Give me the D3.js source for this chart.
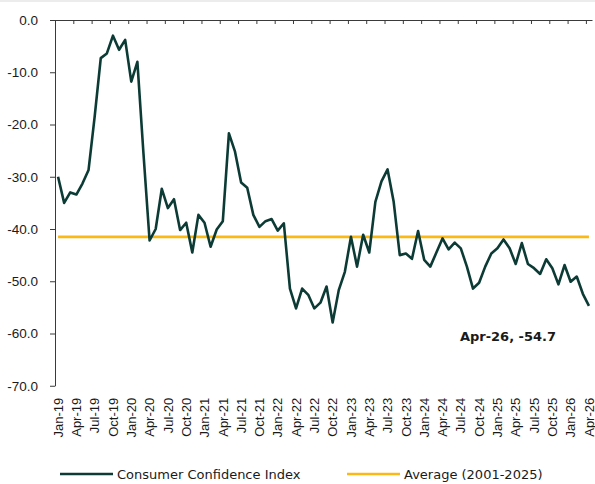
<!DOCTYPE html>
<html>
<head>
<meta charset="utf-8">
<script src="https://cdn.jsdelivr.net/npm/d3@7"></script>
<style>
  body { margin: 0; background: #fff; }
  svg { display: block; font-family: "DejaVu Sans", Verdana, sans-serif; }
</style>
</head>
<body>
<svg id="chart" width="595" height="484"></svg>
<script>
// Monthly categories Jan-19 .. Apr-26
const months = ["Jan", "Feb", "Mar", "Apr", "May", "Jun", "Jul", "Aug", "Sep", "Oct", "Nov", "Dec"];
const years = [19, 20, 21, 22, 23, 24, 25, 26];
const categories = [];
years.forEach(y => months.forEach((m, i) => {
  if (y < 26 || i < 4) categories.push(`${m}-${y}`);
}));

// Consumer Confidence Index
const cciValues = [
  -30.0, -35.0, -33.0, -33.4, -31.3, -28.7, -18.5, -7.3, -6.4, -3.0, -5.7, -3.8,
  -11.8, -8.0, -25.6, -42.2, -40.0, -32.3, -36.0, -34.3, -40.2, -38.8, -44.5, -37.3,
  -38.8, -43.4, -40.1, -38.5, -21.7, -25.2, -31.1, -32.1, -37.3, -39.6, -38.5, -38.1,
  -40.3, -38.9, -51.4, -55.2, -51.4, -52.6, -55.2, -54.1, -51.0, -57.9, -51.7, -48.2,
  -41.5, -47.2, -41.1, -44.5, -34.8, -30.9, -28.6, -34.8, -45.0, -44.7, -45.7, -40.4,
  -45.9, -47.2, -44.5, -41.8, -43.9, -42.6, -43.7, -47.2, -51.4, -50.3, -47.2, -44.7,
  -43.7, -42.0, -43.7, -46.7, -42.7, -46.7, -47.5, -48.6, -45.8, -47.5, -50.6, -46.9,
  -50.1, -49.1, -52.4, -54.7
];
const averageValue = -41.5;
const yTicks = [0, -10, -20, -30, -40, -50, -60, -70];
const seriesNames = ["Consumer Confidence Index", "Average (2001-2025)"];
const lastLabel = "Apr-26, -54.7";

const colors = { cci: "#0c3b35", avg: "#fdb913", axis: "#3a3a3a", text: "#1a1a1a" };

const svg = d3.select("#chart");
const plotLeft = 55, plotRight = 592, plotTop = 20, plotBottom = 385.75;

// thin grey band along the top edge
svg.append("rect").attr("x", 0).attr("y", 0).attr("width", 595).attr("height", 2).attr("fill", "#ececec");

const x = d3.scaleBand().domain(categories).range([plotLeft, plotRight]).padding(0);
const xi = d3.scaleLinear().domain([0, categories.length]).range([plotLeft, plotRight]);
const y = d3.scaleLinear().domain([-70, 0]).range([plotBottom, plotTop]);
const cx = d => x(d) + x.bandwidth() / 2;

// y axis
const yAxis = svg.append("g")
  .attr("transform", `translate(${plotLeft},0)`)
  .call(d3.axisLeft(y).tickValues(yTicks).tickSize(5).tickSizeOuter(0).tickPadding(12)
    .tickFormat(d => d.toFixed(1)));
yAxis.selectAll("path, line").attr("stroke", colors.axis);
yAxis.selectAll("text").attr("font-size", 13.5).attr("fill", colors.text);

// x axis line across y = 0 with tick marks at every quarter boundary
const quarterIdx = d3.range(0, categories.length, 3);
const topAxis = svg.append("g")
  .attr("transform", `translate(0,${y(0)})`)
  .call(d3.axisBottom(xi).tickValues(quarterIdx).tickSize(4).tickSizeOuter(0).tickFormat(""));
topAxis.selectAll("path, line").attr("stroke", colors.axis);

// rotated month labels at the bottom
const labelAxis = svg.append("g")
  .attr("transform", `translate(0,${plotBottom})`)
  .call(d3.axisBottom(x).tickValues(quarterIdx.map(i => categories[i])).tickSize(0));
labelAxis.select(".domain").remove();
labelAxis.selectAll("text")
  .attr("transform", "rotate(-90)")
  .attr("x", -12).attr("y", 0).attr("dy", "0.36em")
  .attr("text-anchor", "end")
  .attr("font-size", 13).attr("fill", colors.text);

// average line
const avgLine = d3.line().x(d => cx(d)).y(() => y(averageValue));
svg.append("path").datum(categories)
  .attr("d", avgLine).attr("fill", "none")
  .attr("stroke", colors.avg).attr("stroke-width", 2.6);

// index line
const line = d3.line().x((d, i) => cx(categories[i])).y(d => y(d));
svg.append("path").datum(cciValues)
  .attr("d", line).attr("fill", "none")
  .attr("stroke", colors.cci).attr("stroke-width", 2.6)
  .attr("stroke-linejoin", "round");

// last value label
svg.append("text")
  .attr("x", 508).attr("y", 341)
  .attr("text-anchor", "middle")
  .attr("font-size", 13).attr("font-weight", "bold").attr("fill", colors.text)
  .text(lastLabel);

// legend
const legend = svg.append("g").attr("transform", "translate(0,474)");
const legendItems = [
  { name: seriesNames[0], color: colors.cci, x0: 60 },
  { name: seriesNames[1], color: colors.avg, x0: 347 }
];
legendItems.forEach(it => {
  legend.append("line").attr("x1", it.x0).attr("x2", it.x0 + 53)
    .attr("y1", 0).attr("y2", 0).attr("stroke", it.color).attr("stroke-width", 2.6);
  legend.append("text").attr("x", it.x0 + 57).attr("y", 0).attr("dy", "0.35em")
    .attr("font-size", 13).attr("fill", colors.text).text(it.name);
});
</script>
</body>
</html>
